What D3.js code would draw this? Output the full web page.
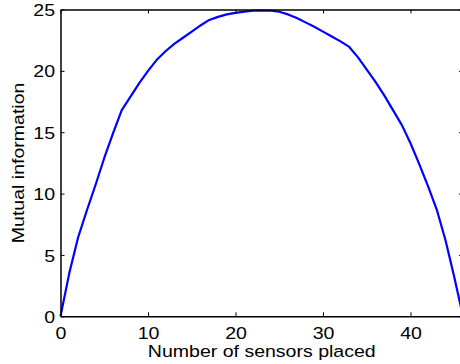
<!DOCTYPE html>
<html>
<head>
<meta charset="utf-8">
<script src="https://cdn.jsdelivr.net/npm/d3@7"></script>
<style>
  html, body { margin: 0; padding: 0; background: #fff; }
  svg { display: block; font-family: 'Liberation Sans', Arial, sans-serif; }
</style>
</head>
<body>
<svg id="chart" width="460" height="364"></svg>
<script>
// number of sensors placed (0..46)
const sensors = d3.range(0, 47)
const mutualInfo = [
  0, 3.5, 6.4, 8.6, 10.7, 12.9, 14.9, 16.8, 17.9, 19.0,
  20.0, 20.9, 21.6, 22.2, 22.7, 23.2, 23.7, 24.15, 24.4, 24.6,
  24.72, 24.82, 24.9, 24.92, 24.9, 24.82, 24.6, 24.3, 23.95, 23.6,
  23.2, 22.8, 22.4, 21.95, 21.1, 20.1, 19.1, 18.0, 16.8, 15.6,
  14.1, 12.4, 10.6, 8.7, 6.2, 3.2, 0
]
const xTicks = [0, 10, 20, 30, 40]
const yTicks = [0, 5, 10, 15, 20, 25]
const xLabel = 'Number of sensors placed'
const yLabel = 'Mutual information'

const marginLeft = 60.5
const marginTop = 9.5
const width = 402.5
const height = 306.8
const stretch = 1.15

const svg = d3.select('#chart')

const x = d3.scaleLinear().domain([0, 46]).range([0, width])
const y = d3.scaleLinear().domain([0, 25]).range([height, 0])

const data = sensors.map((s, i) => ({ s, v: mutualInfo[i] }))

const plot = svg.append('g').attr('transform', `translate(${marginLeft} ${marginTop})`)

const line = d3.line()
  .x((d) => x(d.s))
  .y((d) => y(d.v))

plot.append('path')
  .datum(data)
  .attr('fill', 'none')
  .attr('stroke', '#0000ff')
  .attr('stroke-width', 2.2)
  .attr('stroke-linejoin', 'round')
  .attr('d', line)

const styleAxis = (g) => {
  g.select('.domain').attr('stroke', '#000').attr('stroke-width', 1.5)
  g.selectAll('.tick line').attr('stroke', '#000').attr('stroke-width', 1)
  g.selectAll('.tick text')
    .attr('fill', '#000')
    .style('font-size', '17px')
}

// bottom + left with labels, ticks pointing inward
plot.append('g')
  .attr('transform', `translate(0 ${height})`)
  .call(d3.axisBottom(x).tickValues(xTicks).tickSizeInner(-4).tickSizeOuter(0).tickPadding(9))
  .call(styleAxis)
  .call((g) => g.selectAll('.tick text')
    .attr('y', 23).attr('dy', null)
    .attr('transform', `scale(${stretch} 1)`))

plot.append('g')
  .call(d3.axisLeft(y).tickValues(yTicks).tickSizeInner(-4).tickSizeOuter(0))
  .call(styleAxis)
  .call((g) => g.selectAll('.tick text')
    .attr('x', -5.5 / stretch)
    .attr('dy', '0.36em')
    .attr('transform', `scale(${stretch} 1)`))

// top + right box lines, ticks only
plot.append('g')
  .call(d3.axisTop(x).tickValues(xTicks).tickSizeInner(-4).tickSizeOuter(0).tickFormat(''))
  .call(styleAxis)

plot.append('g')
  .attr('transform', `translate(${width} 0)`)
  .call(d3.axisRight(y).tickValues(yTicks).tickSizeInner(-4).tickSizeOuter(0).tickFormat(''))
  .call(styleAxis)

svg.append('text')
  .attr('transform', `translate(${marginLeft + width / 2} 357.3) scale(${stretch} 1)`)
  .attr('text-anchor', 'middle')
  .style('font-size', '17px')
  .text(xLabel)

svg.append('text')
  .attr('transform', `translate(24 ${marginTop + height / 2}) rotate(-90) scale(${stretch} 1)`)
  .attr('text-anchor', 'middle')
  .style('font-size', '17px')
  .text(yLabel)
</script>
</body>
</html>
